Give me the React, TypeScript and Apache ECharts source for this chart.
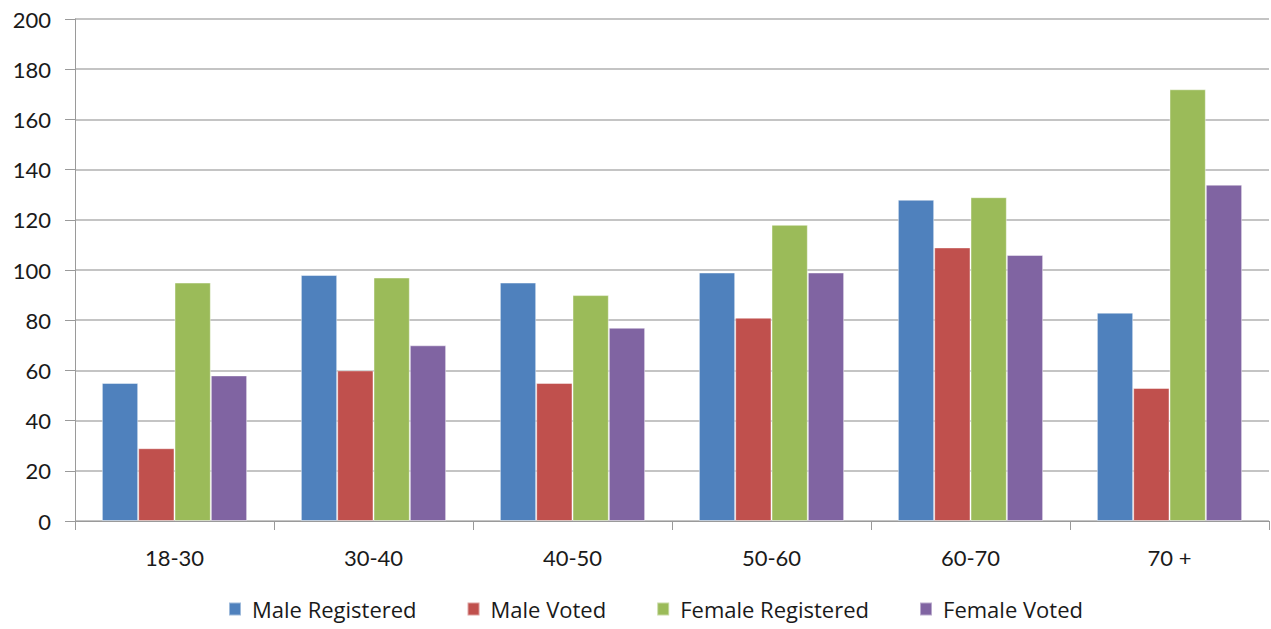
import React, { useEffect, useRef } from "react";
import * as echarts from "echarts";

const categories = ["18-30", "30-40", "40-50", "50-60", "60-70", "70 +"];
const maleRegistered = [55, 98, 95, 99, 128, 83];
const maleVoted = [29, 60, 55, 81, 109, 53];
const femaleRegistered = [95, 97, 90, 118, 129, 172];
const femaleVoted = [58, 70, 77, 99, 106, 134];

const seriesNames = ["Male Registered", "Male Voted", "Female Registered", "Female Voted"];
const colors = ["#4F81BD", "#C0504D", "#9BBB59", "#8064A2"];

const FONT = "Lato, 'Open Sans', sans-serif";
const LEGEND_FONT = "'Open Sans', Lato, sans-serif";

export default function App() {
  const ref = useRef<HTMLDivElement>(null);
  useEffect(() => {
    if (!ref.current) return;
    const chart = echarts.init(ref.current, null, { renderer: "svg" });
    const data = [maleRegistered, maleVoted, femaleRegistered, femaleVoted];
    chart.setOption({
      animation: false,
      textStyle: { fontFamily: FONT },
      grid: { left: 75, right: 2, top: 19, bottom: 108, containLabel: false },
      legend: {
        top: 593,
        left: 223,
        itemWidth: 12,
        itemHeight: 13,
        itemGap: 50,
        icon: "rect",
        textStyle: { fontSize: 22, color: "#1a1a1a", fontFamily: LEGEND_FONT, padding: [0, 0, 0, 6] },
        data: seriesNames,
      },
      xAxis: {
        type: "category",
        data: categories,
        axisLine: { show: true, lineStyle: { color: "#9a9a9a", width: 1 } },
        axisTick: { show: true, alignWithLabel: false, length: 9, lineStyle: { color: "#9a9a9a" } },
        axisLabel: { fontSize: 22, color: "#1a1a1a", margin: 25, fontFamily: FONT },
        splitLine: { show: false },
      },
      yAxis: {
        type: "value",
        min: 0,
        max: 200,
        interval: 20,
        axisLine: { show: true, lineStyle: { color: "#9a9a9a", width: 1 } },
        axisTick: { show: true, length: 10, lineStyle: { color: "#9a9a9a" } },
        axisLabel: { fontSize: 22, color: "#1a1a1a", margin: 24, fontFamily: FONT },
        splitLine: { show: true, lineStyle: { color: "#b0b0b0", width: 1.5 } },
      },
      series: seriesNames.map((name, i) => ({
        name,
        type: "bar",
        data: data[i],
        barGap: "0%",
        barCategoryGap: "27%",
        itemStyle: {
          color: colors[i],
          borderColor: "rgba(255,255,255,0.45)",
          borderWidth: 1,
        },
      })),
    });
    return () => chart.dispose();
  }, []);
  return (
    <div
      ref={ref}
      style={{ position: "absolute", left: 0, top: 0, width: 1271, height: 629 }}
    />
  );
}
